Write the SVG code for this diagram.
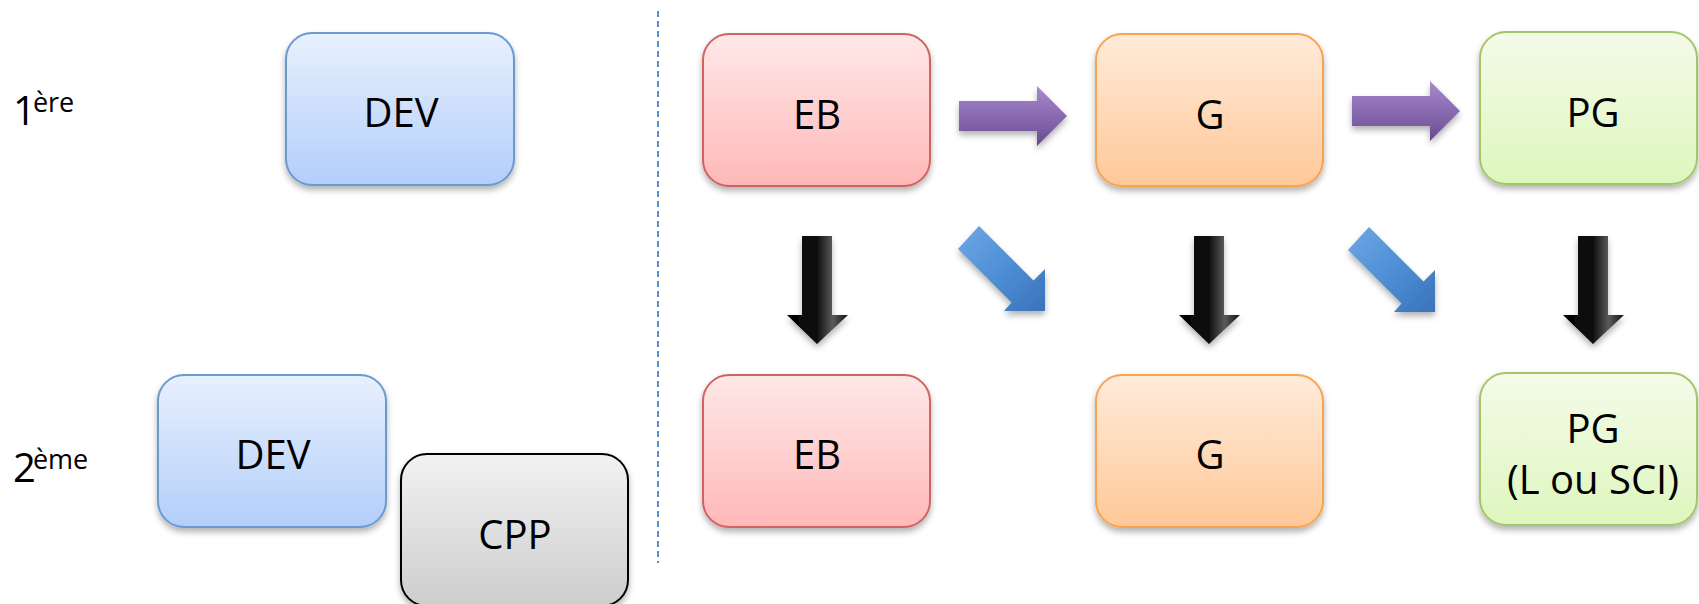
<svg xmlns="http://www.w3.org/2000/svg" width="1699" height="604" viewBox="0 0 1699 604">
<defs>
<style>
.lbl{font-family:"Open Sans","Noto Sans",sans-serif;font-size:40px;fill:#000;text-anchor:middle}
.side{font-family:"Open Sans","Noto Sans",sans-serif;font-size:40px;fill:#000}
.box{stroke-width:2}
</style>
<filter id="sh" x="-10%" y="-10%" width="120%" height="130%">
<feDropShadow dx="0" dy="4" stdDeviation="3" flood-color="#000" flood-opacity="0.3"/>
</filter>
<linearGradient id="gBlue" x1="0" y1="0" x2="0" y2="1"><stop offset="0" stop-color="#E8F0FD"/><stop offset="1" stop-color="#B3CEFA"/></linearGradient>
<linearGradient id="gGray" x1="0" y1="0" x2="0" y2="1"><stop offset="0" stop-color="#F2F2F2"/><stop offset="1" stop-color="#CDCDCD"/></linearGradient>
<linearGradient id="gRed" x1="0" y1="0" x2="0" y2="1"><stop offset="0" stop-color="#FFE8E8"/><stop offset="1" stop-color="#FFB8B8"/></linearGradient>
<linearGradient id="gOrange" x1="0" y1="0" x2="0" y2="1"><stop offset="0" stop-color="#FFEBDA"/><stop offset="1" stop-color="#FFC898"/></linearGradient>
<linearGradient id="gGreen" x1="0" y1="0" x2="0" y2="1"><stop offset="0" stop-color="#F4FBE9"/><stop offset="1" stop-color="#DEF6BE"/></linearGradient>
<linearGradient id="gPurple" x1="0" y1="0" x2="0" y2="1"><stop offset="0" stop-color="#A88BCB"/><stop offset="0.35" stop-color="#9273BA"/><stop offset="0.7" stop-color="#7D5FA6"/><stop offset="1" stop-color="#64498A"/></linearGradient>
<linearGradient id="gBlack" x1="0" y1="0" x2="1" y2="0"><stop offset="0" stop-color="#000"/><stop offset="0.5" stop-color="#111"/><stop offset="0.75" stop-color="#5a5a5a"/><stop offset="1" stop-color="#111"/></linearGradient>
<linearGradient id="gArrowBlue" x1="0" y1="0" x2="1" y2="1"><stop offset="0" stop-color="#6FA7E4"/><stop offset="0.5" stop-color="#4F8FD6"/><stop offset="1" stop-color="#3A73BA"/></linearGradient>
</defs>
<rect width="1699" height="604" fill="#fff"/>

<text class="side" x="13" y="125">1<tspan font-size="27" dx="-3" dy="-13">ère</tspan></text>
<text class="side" x="13" y="482">2<tspan font-size="27" dx="-3" dy="-13">ème</tspan></text>

<line x1="658" y1="11" x2="658" y2="563" stroke="#5B8FCB" stroke-width="2" stroke-dasharray="6,4"/>

<g id="connectors">
<path d="M959,101 H1037 V86 L1067,116 L1037,146 V131 H959 Z" fill="url(#gPurple)" filter="url(#sh)"/>
<path d="M1352,96 H1430 V81 L1460,111 L1430,141 V126 H1352 Z" fill="url(#gPurple)" filter="url(#sh)"/>
<path d="M979,226 L1033.5,280.5 L1045,269 L1045,311 L1004,311 L1011.5,302.5 L958,249 Z" fill="url(#gArrowBlue)" filter="url(#sh)"/>
<path d="M1369,227 L1423.5,281.5 L1435,270 L1435,312 L1394,312 L1401.5,303.5 L1348,250 Z" fill="url(#gArrowBlue)" filter="url(#sh)"/>
<path d="M802,236 H832 V315 H848 L817,344 L787,315 H802 Z" fill="url(#gBlack)" filter="url(#sh)"/>
<path d="M1194,236 H1224 V315 H1240 L1209,344 L1179,315 H1194 Z" fill="url(#gBlack)" filter="url(#sh)"/>
<path d="M1578,236 H1608 V315 H1624 L1593,344 L1563,315 H1578 Z" fill="url(#gBlack)" filter="url(#sh)"/>
</g>

<g id="dev1"><rect class="box" x="286" y="33" width="228" height="152" rx="26" fill="url(#gBlue)" stroke="#6A9AD0" filter="url(#sh)"/><text class="lbl" x="401" y="127">DEV</text></g>
<g id="dev2"><rect class="box" x="158" y="375" width="228" height="152" rx="26" fill="url(#gBlue)" stroke="#6A9AD0" filter="url(#sh)"/><text class="lbl" x="273" y="469">DEV</text></g>
<g id="cpp"><rect class="box" x="401" y="454" width="227" height="152" rx="26" fill="url(#gGray)" stroke="#000" filter="url(#sh)"/><text class="lbl" x="515" y="549">CPP</text></g>

<g id="eb1"><rect class="box" x="703" y="34" width="227" height="152" rx="26" fill="url(#gRed)" stroke="#CE6460" filter="url(#sh)"/><text class="lbl" x="817" y="129">EB</text></g>
<g id="g1"><rect class="box" x="1096" y="34" width="227" height="152" rx="26" fill="url(#gOrange)" stroke="#F7A350" filter="url(#sh)"/><text class="lbl" x="1210" y="129">G</text></g>
<g id="pg1"><rect class="box" x="1480" y="32" width="217" height="152" rx="26" fill="url(#gGreen)" stroke="#A4C66A" filter="url(#sh)"/><text class="lbl" x="1593" y="127">PG</text></g>

<g id="eb2"><rect class="box" x="703" y="375" width="227" height="152" rx="26" fill="url(#gRed)" stroke="#CE6460" filter="url(#sh)"/><text class="lbl" x="817" y="469">EB</text></g>
<g id="g2"><rect class="box" x="1096" y="375" width="227" height="152" rx="26" fill="url(#gOrange)" stroke="#F7A350" filter="url(#sh)"/><text class="lbl" x="1210" y="469">G</text></g>
<g id="pg2"><rect class="box" x="1480" y="373" width="217" height="152" rx="26" fill="url(#gGreen)" stroke="#A4C66A" filter="url(#sh)"/><text class="lbl" x="1593" y="443">PG</text><text class="lbl" x="1593" y="494" font-size="37">(L ou SCI)</text></g>
</svg>
